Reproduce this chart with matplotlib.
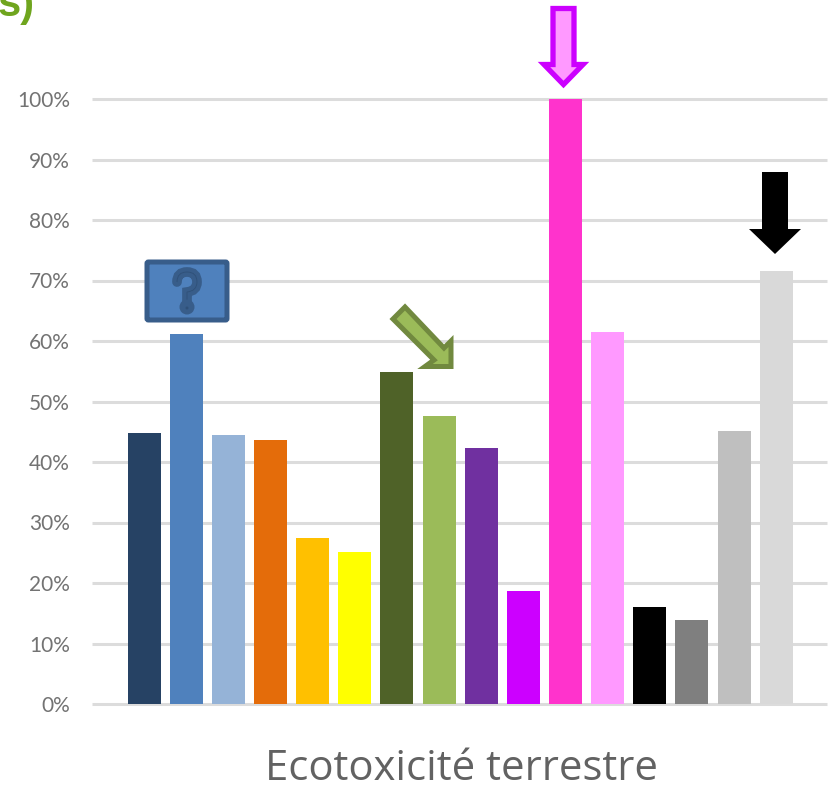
import matplotlib
matplotlib.use('Agg')
import matplotlib.pyplot as plt
from matplotlib.patches import Polygon, FancyBboxPatch, Circle
from matplotlib.path import Path
from matplotlib.patches import PathPatch

W, H = 833, 786

values = [44.8, 61.2, 44.5, 43.6, 27.4, 25.1, 54.9, 47.6, 42.3, 18.7, 100.0, 61.5, 16.0, 13.9, 45.1, 71.6]
colors = ['#264264', '#4F81BD', '#95B3D7', '#E46C0A', '#FFC000', '#FFFF00',
          '#4F6228', '#9BBB59', '#7030A0', '#CC00FF', '#FF33CC', '#FF99FF',
          '#000000', '#7F7F7F', '#BFBFBF', '#D9D9D9']
yticks = [0, 10, 20, 30, 40, 50, 60, 70, 80, 90, 100]
xlabel = 'Ecotoxicité terrestre'

fig = plt.figure(figsize=(W / 100, H / 100), dpi=100)
fig.patch.set_facecolor('white')

# plot area: 92..827 px across, 0% at y=704 and 100% at y=99
ax = fig.add_axes([92 / W, 1 - 704 / H, (827 - 92) / W, (704 - 99) / H])
step = 42.15
ax.set_xlim((92 - 144) / step, (827 - 144) / step)
ax.set_ylim(0, 100)
ax.bar(range(len(values)), values, width=33 / step, color=colors, zorder=3)

ax.set_yticks(yticks)
ax.set_yticklabels([f'{t}%' for t in yticks], fontsize=15, color='#737373', family='Lato')
ax.set_xticks([])
ax.tick_params(axis='y', length=0, pad=16)
ax.grid(axis='y', color='#DCDCDC', lw=2.2, zorder=0)
ax.set_axisbelow(True)
for s in ax.spines.values():
    s.set_visible(False)
ax.patch.set_visible(False)
for gl in ax.get_ygridlines():
    gl.set_clip_on(False)
    gl.set_solid_capstyle('butt')

# overlay in pixel coordinates for the callout shapes
ov = fig.add_axes([0, 0, 1, 1], zorder=5)
ov.set_xlim(0, W)
ov.set_ylim(H, 0)
ov.axis('off')

# question mark box
ov.add_patch(FancyBboxPatch((147, 262), 80, 58, boxstyle='round,pad=0,rounding_size=1.5',
                            fc='#4F81BD', ec='#385D8A', lw=3.6))
hook = Path([(177, 282), (177, 272), (187, 272), (197, 272), (197, 282), (197, 291), (187, 292), (187, 300), (187, 307)],
            [Path.MOVETO, Path.CURVE3, Path.CURVE3, Path.CURVE3, Path.CURVE3, Path.CURVE3, Path.CURVE3, Path.LINETO, Path.LINETO])
ov.add_patch(PathPatch(hook, fc='none', ec='#385D8A', lw=7, capstyle='round'))
ov.add_patch(PathPatch(hook, fc='none', ec='#2F5078', lw=0.6))
ov.add_patch(Circle((187, 307), 7.5, fc='#385D8A', ec='none'))
ov.add_patch(Circle((187, 308), 1.5, fc='#2F5078', ec='none'))

# magenta down arrow
ov.add_patch(Polygon([(553, 8.5), (574, 8.5), (574, 64.5), (583, 64.5), (563.5, 84.5), (544, 64.5), (553, 64.5)],
                     closed=True, fc='#FF99FF', ec='#CC00FF', lw=3.8, joinstyle='miter'))

# green diagonal arrow
ov.add_patch(Polygon([(405, 307), (393, 319), (434, 360), (425, 366.5), (451, 366.5), (451, 341), (444, 348)],
                     closed=True, fc='#9BBB59', ec='#71893F', lw=3.6, joinstyle='miter'))

# black down arrow
ov.add_patch(Polygon([(762, 172), (788, 172), (788, 229), (801, 229), (775, 254), (749, 229), (762, 229)],
                     closed=True, fc='black', ec='none'))

# x axis caption and the clipped end of the heading above the chart
fig.text(461.5 / W, 1 - 780 / H, xlabel, fontsize=30.2, color='#626262', family='Open Sans',
         ha='center', va='baseline')
fig.text(35 / W, 1 - 16 / H, 's)', fontsize=30, fontweight='bold', color='#6FA51E',
         family='Liberation Sans', ha='right', va='baseline')

fig.savefig('out.png', dpi=100)
plt.close()
